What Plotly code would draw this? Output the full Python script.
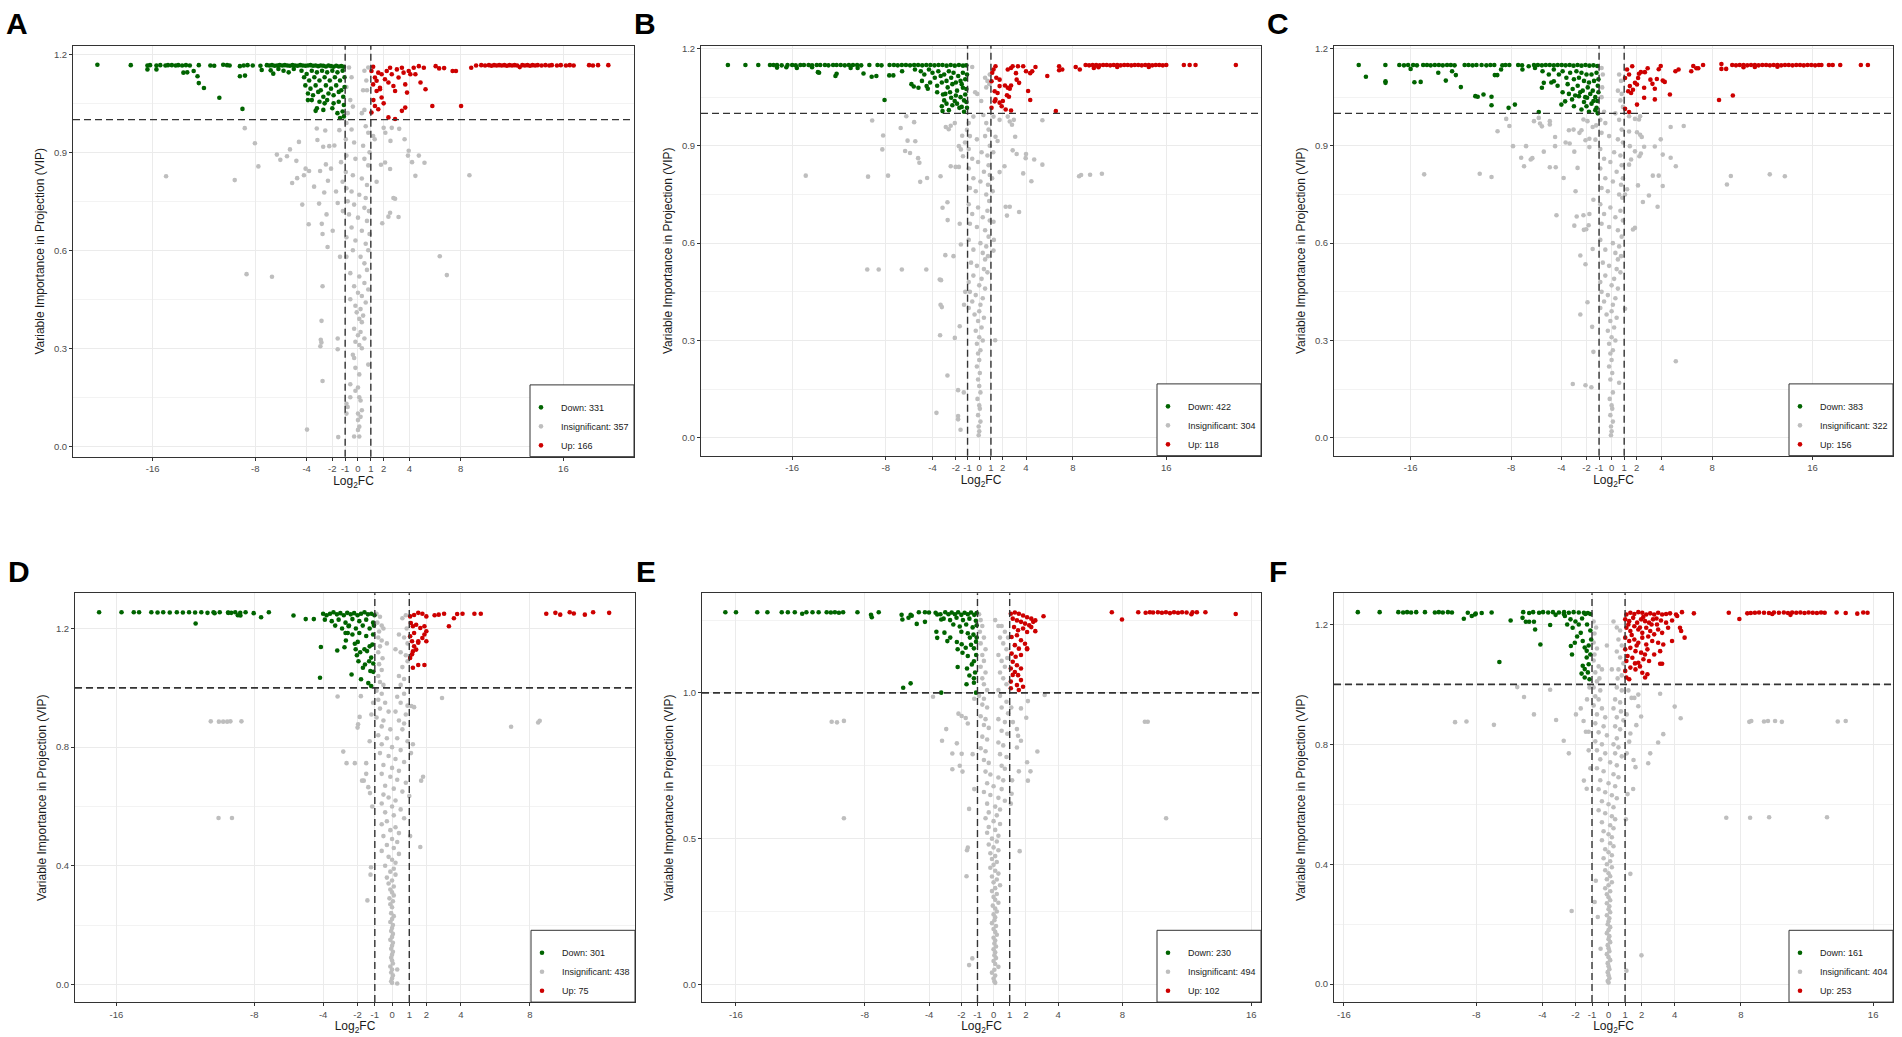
import plotly.graph_objects as go

W, H = 1902, 1037

# legend counts: Down, Insignificant, Up
A_counts = [331, 357, 166]
B_counts = [422, 304, 118]
C_counts = [383, 322, 156]
D_counts = [301, 438, 75]
E_counts = [230, 494, 102]
F_counts = [161, 404, 253]

x_ticks = [-16, -8, -4, -2, -1, 0, 1, 2, 4, 8, 16]
y_ticks_03 = [0.0, 0.3, 0.6, 0.9, 1.2]
y_ticks_04 = [0.0, 0.4, 0.8, 1.2]
y_ticks_05 = [0.0, 0.5, 1.0]

# (Log2FC, VIP) pairs
A_down = [
    (-20.3, 1.168), (-17.7, 1.167), (-16.4, 1.166), (-16.2, 1.167), (-15.7, 1.166), (-15.4, 1.167),
    (-15.0, 1.166), (-14.8, 1.167), (-14.5, 1.167), (-14.2, 1.166), (-14.0, 1.167), (-13.7, 1.166),
    (-13.4, 1.167), (-13.1, 1.166), (-12.4, 1.167), (-11.5, 1.166), (-11.2, 1.165), (-10.5, 1.168),
    (-10.2, 1.167), (-10.0, 1.166), (-9.2, 1.164), (-8.9, 1.166), (-8.6, 1.167), (-8.2, 1.166),
    (-7.6, 1.165), (-7.1, 1.167), (-6.9, 1.166), (-6.7, 1.167), (-6.5, 1.165), (-6.3, 1.166),
    (-6.1, 1.167), (-5.9, 1.166), (-5.7, 1.167), (-5.5, 1.166), (-5.3, 1.165), (-5.1, 1.167),
    (-4.9, 1.166), (-4.7, 1.165), (-4.5, 1.167), (-4.3, 1.166), (-4.1, 1.165), (-3.9, 1.166),
    (-3.7, 1.167), (-3.5, 1.165), (-3.3, 1.166), (-3.1, 1.164), (-2.9, 1.166), (-2.7, 1.165),
    (-2.5, 1.163), (-2.3, 1.166), (-2.1, 1.164), (-1.9, 1.162), (-1.7, 1.165), (-1.5, 1.163),
    (-1.3, 1.164), (-1.1, 1.162),
    (-16.4, 1.154), (-15.7, 1.154), (-13.6, 1.144), (-13.3, 1.145), (-12.8, 1.149), (-12.5, 1.133),
    (-12.4, 1.112), (-12.0, 1.097), (-10.8, 1.067), (-9.2, 1.133), (-8.8, 1.135), (-9.0, 1.033),
    (-7.5, 1.152), (-6.8, 1.151), (-6.6, 1.141), (-6.2, 1.155), (-5.8, 1.150), (-5.4, 1.145),
    (-5.0, 1.155),
    (-4.4, 1.15), (-4.2, 1.13), (-4.0, 1.14), (-3.8, 1.12), (-3.6, 1.15), (-3.4, 1.13),
    (-3.2, 1.145), (-3.0, 1.12), (-2.8, 1.15), (-2.6, 1.13), (-2.4, 1.145), (-2.2, 1.12),
    (-2.0, 1.15), (-1.8, 1.13), (-1.6, 1.145), (-1.4, 1.12), (-1.2, 1.15), (-1.05, 1.13),
    (-4.1, 1.105), (-3.7, 1.095), (-3.3, 1.105), (-2.9, 1.09), (-2.5, 1.105), (-2.1, 1.095),
    (-1.7, 1.105), (-1.3, 1.09), (-1.05, 1.10),
    (-3.9, 1.08), (-3.5, 1.075), (-3.1, 1.085), (-2.7, 1.07), (-2.3, 1.08), (-1.9, 1.075),
    (-1.5, 1.085), (-1.15, 1.07),
    (-3.9, 1.06), (-3.6, 1.06), (-3.0, 1.055), (-2.6, 1.05), (-2.4, 1.06), (-1.9, 1.05),
    (-1.5, 1.055), (-1.1, 1.045),
    (-3.2, 1.035), (-3.3, 1.027), (-2.7, 1.03), (-2.0, 1.035), (-1.6, 1.02), (-1.2, 1.025),
    (-1.4, 1.005), (-1.1, 1.01),
]
A_insig = [
    (-14.95, 0.827), (-9.6, 0.815), (-8.82, 0.974), (-8.03, 0.928), (-7.76, 0.857), (-8.68, 0.527),
    (-6.7, 0.519), (-6.32, 0.893), (-6.05, 0.877), (-5.53, 0.888), (-5.3, 0.909), (-5.13, 0.806),
    (-4.74, 0.821), (-4.8, 0.874), (-4.6, 0.932), (-4.34, 0.74), (-4.21, 0.83), (-4.08, 0.85),
    (-3.84, 0.68), (-3.81, 0.843), (-3.42, 0.795), (-3.21, 0.973), (-3.16, 0.938), (-3.03, 0.743),
    (-2.95, 0.843), (-2.82, 0.681), (-2.76, 0.65), (-2.76, 0.49), (-2.71, 0.917), (-2.63, 0.777),
    (-2.55, 0.967), (-2.5, 0.863), (-2.45, 0.71), (-2.37, 0.61), (-2.34, 0.813), (-2.24, 0.919),
    (-2.1, 0.85), (-1.97, 0.66), (-1.84, 0.921), (-1.71, 0.78), (-1.58, 0.745), (-1.45, 0.968),
    (-1.4, 0.58), (-1.32, 0.87), (-1.2, 0.81), (-1.18, 0.72),
    (-3.97, 0.051), (-2.84, 0.384), (-2.9, 0.326), (-2.85, 0.318), (-2.93, 0.306), (-2.76, 0.2),
    (-1.58, 0.33), (-1.58, 0.297), (-1.54, 0.028),
    (2.0, 0.975), (2.13, 0.96), (2.53, 0.935), (1.79, 0.862), (2.11, 0.869), (2.5, 0.849),
    (2.63, 0.975), (2.76, 0.76), (2.89, 0.758), (2.5, 0.715), (2.37, 0.703), (3.16, 0.702),
    (3.21, 0.972), (3.63, 0.94), (3.89, 0.89), (3.95, 0.905), (4.21, 0.87), (4.74, 0.89),
    (4.47, 0.828), (5.18, 0.868), (8.68, 0.83), (6.37, 0.582), (6.92, 0.524), (1.89, 0.683),
    (1.45, 0.81), (1.18, 0.95), (1.3, 0.94),
    (-0.9, 1.1), (-0.7, 1.16), (-0.5, 1.13), (0.5, 1.15), (0.65, 1.12), (0.8, 1.16),
    (0.4, 1.09), (0.7, 1.09), (-0.6, 1.06), (-0.4, 1.04), (0.5, 1.03), (-0.8, 1.02), (0.3, 1.02),
    (-0.9, 0.99), (-0.5, 0.97), (0.6, 0.98), (0.8, 0.96), (-0.95, 0.94), (-0.3, 0.93),
    (0.4, 0.92), (0.9, 0.9), (-0.9, 0.89), (-0.2, 0.88), (0.5, 0.88), (0.8, 0.86),
    (-0.95, 0.84), (-0.4, 0.83), (0.3, 0.82), (0.7, 0.8), (-0.9, 0.79), (-0.5, 0.78),
    (0.1, 0.77), (0.6, 0.76), (-0.8, 0.75), (-0.3, 0.74), (0.5, 0.73), (0.85, 0.72),
    (-0.7, 0.71), (0.0, 0.7), (0.7, 0.69), (-0.5, 0.67), (0.3, 0.66), (0.9, 0.65),
    (-0.9, 0.64), (-0.2, 0.63), (0.6, 0.62), (0.8, 0.6), (-0.4, 0.6), (0.2, 0.58),
    (-0.9, 0.58), (0.5, 0.56), (0.7, 0.54), (-0.6, 0.53), (0.1, 0.52), (0.5, 0.5),
    (-0.3, 0.49), (0.8, 0.48), (0.0, 0.47), (0.3, 0.46), (-0.6, 0.45), (0.6, 0.44),
    (-0.2, 0.43), (0.2, 0.42), (-0.1, 0.41), (0.4, 0.40), (0.1, 0.39), (0.3, 0.38),
    (-0.3, 0.36), (0.2, 0.35), (0.0, 0.34), (0.5, 0.33), (-0.2, 0.32), (0.1, 0.31),
    (0.3, 0.3), (-0.4, 0.28), (-0.3, 0.27), (0.8, 0.25), (-0.2, 0.24), (0.1, 0.22),
    (-0.6, 0.19), (0.0, 0.18), (-0.2, 0.17), (0.1, 0.15), (-0.6, 0.15), (0.2, 0.14),
    (-0.9, 0.13), (-0.8, 0.12), (0.3, 0.11), (0.0, 0.1), (-0.9, 0.1), (0.2, 0.09),
    (0.0, 0.08), (0.1, 0.06), (0.0, 0.05), (-0.3, 0.03), (0.1, 0.03),
]
A_up = [
    (1.18, 1.162), (1.05, 1.149), (1.32, 1.129), (1.18, 1.108), (1.58, 1.144), (1.45, 1.119),
    (1.71, 1.098), (1.84, 1.139), (1.84, 1.068), (2.1, 1.124), (2.24, 1.149), (2.37, 1.114),
    (2.5, 1.159), (2.63, 1.139), (2.76, 1.103), (2.89, 1.088), (3.03, 1.154), (3.16, 1.129),
    (3.42, 1.159), (3.55, 1.144), (3.68, 1.108), (3.82, 1.083), (3.95, 1.149), (4.08, 1.139),
    (4.34, 1.159), (4.47, 1.139), (4.74, 1.164), (4.87, 1.114), (5.13, 1.159), (5.26, 1.093),
    (6.05, 1.164), (6.32, 1.157), (6.71, 1.158), (7.37, 1.149), (7.63, 1.149), (8.82, 1.159),
    (1.05, 1.022), (1.32, 1.042), (1.58, 1.032), (2.37, 1.007), (2.89, 1.002), (3.42, 1.027),
    (3.68, 1.037), (5.79, 1.042), (8.03, 1.042), (1.45, 1.088), (1.71, 1.093), (1.2, 1.06),
    (2.0, 1.05),
    (9.2, 1.166), (9.6, 1.167), (9.9, 1.166), (10.2, 1.167), (10.4, 1.165), (10.6, 1.167),
    (10.8, 1.166), (11.0, 1.167), (11.2, 1.166), (11.4, 1.167), (11.6, 1.165), (11.8, 1.167),
    (12.0, 1.166), (12.2, 1.167), (12.4, 1.166), (12.6, 1.161), (12.8, 1.167), (13.0, 1.166),
    (13.2, 1.167), (13.4, 1.165), (13.6, 1.167), (13.8, 1.166), (14.0, 1.167), (14.3, 1.166),
    (14.6, 1.167), (14.9, 1.166), (15.1, 1.167), (15.5, 1.166), (15.8, 1.167), (16.2, 1.166),
    (16.5, 1.167), (16.8, 1.166), (18.0, 1.167), (18.3, 1.166), (18.7, 1.167), (19.5, 1.167),
]

B_down = [
    (-21.5, 1.149), (-20.0, 1.149), (-18.9, 1.149), (-17.9, 1.149), (-17.6, 1.149), (-17.3, 1.149),
    (-16.9, 1.148), (-16.4, 1.149), (-16.0, 1.149), (-15.7, 1.148), (-15.3, 1.149), (-15.0, 1.149),
    (-14.6, 1.149), (-14.3, 1.148), (-13.9, 1.149), (-13.6, 1.149), (-13.2, 1.149), (-12.9, 1.148),
    (-12.5, 1.149), (-12.2, 1.149), (-11.85, 1.149), (-11.5, 1.148), (-11.15, 1.149), (-10.8, 1.149),
    (-10.45, 1.149), (-10.1, 1.148), (-9.4, 1.149), (-8.7, 1.149), (-8.36, 1.148), (-7.67, 1.149),
    (-7.3, 1.149), (-6.97, 1.148), (-6.62, 1.149), (-6.27, 1.149), (-5.92, 1.148), (-5.57, 1.149),
    (-5.23, 1.149), (-4.88, 1.148), (-4.53, 1.149), (-4.18, 1.149), (-3.83, 1.148), (-3.48, 1.149),
    (-3.14, 1.149), (-2.79, 1.147), (-2.44, 1.149), (-2.09, 1.147), (-1.74, 1.149), (-1.39, 1.147),
    (-1.11, 1.148),
    (-17.3, 1.141), (-16.5, 1.142), (-15.6, 1.14), (-13.8, 1.127), (-13.7, 1.125), (-12.3, 1.115),
    (-12.2, 1.122), (-9.9, 1.123), (-9.2, 1.113), (-8.8, 1.115), (-8.1, 1.041), (-7.7, 1.117),
    (-7.35, 1.117), (-6.6, 1.13), (-10.4, 1.14), (-11.0, 1.14), (-14.3, 1.142),
    (-5.8, 1.09), (-5.6, 1.083), (-5.2, 1.079), (-4.5, 1.084), (-4.4, 1.076), (-3.2, 1.022),
    (-3.14, 1.007), (-3.1, 1.058), (-3.0, 1.04), (-2.4, 1.048), (-2.1, 1.038), (-1.4, 1.079),
    (-1.2, 1.058), (-1.7, 1.017), (-1.05, 1.017),
    (-5.5, 1.135), (-5.0, 1.13), (-4.7, 1.12), (-4.3, 1.135), (-4.0, 1.125), (-3.8, 1.11),
    (-3.5, 1.13), (-3.3, 1.115), (-3.0, 1.12), (-2.8, 1.10), (-2.6, 1.13), (-2.4, 1.11),
    (-2.2, 1.125), (-2.0, 1.095), (-1.8, 1.115), (-1.6, 1.10), (-1.4, 1.125), (-1.2, 1.105),
    (-1.05, 1.12),
    (-4.9, 1.10), (-4.2, 1.095), (-3.6, 1.085), (-3.2, 1.095), (-2.7, 1.08), (-2.3, 1.09),
    (-1.9, 1.07), (-1.5, 1.09), (-1.1, 1.075),
    (-3.6, 1.065), (-2.9, 1.06), (-2.5, 1.065), (-2.0, 1.055), (-1.6, 1.05), (-1.3, 1.04),
    (-2.8, 1.03), (-2.3, 1.025), (-1.9, 1.03), (-1.5, 1.02), (-1.1, 1.035), (-2.6, 1.01),
    (-1.3, 1.005),
]
B_insig = [
    (-14.84, 0.808), (-9.51, 0.805), (-7.8, 0.808), (-9.16, 0.978), (-8.22, 0.932), (-8.29, 0.889),
    (-6.72, 0.955), (-6.24, 0.991), (-6.13, 0.916), (-5.57, 0.973), (-5.47, 0.914), (-6.34, 0.884),
    (-5.92, 0.878), (-5.23, 0.862), (-5.12, 0.848), (-5.05, 0.789), (-4.46, 0.801), (-3.31, 0.806),
    (-2.44, 0.837), (-2.02, 0.835), (-1.74, 0.835), (-2.86, 0.958), (-2.44, 0.962), (-2.61, 0.951),
    (-2.09, 0.97), (-1.74, 0.899), (-1.57, 0.889), (-1.39, 0.868), (-1.22, 0.91), (-1.05, 0.949),
    (-1.46, 0.931),
    (-9.58, 0.519), (-8.6, 0.519), (-6.62, 0.519), (-4.53, 0.519), (-3.14, 0.709), (-2.72, 0.726),
    (-2.9, 0.563), (-2.2, 0.56), (-2.7, 0.671), (-1.67, 0.66), (-1.57, 0.596), (-3.38, 0.488),
    (-3.27, 0.486), (-3.31, 0.41), (-3.2, 0.403), (-3.35, 0.316), (-2.09, 0.308), (-1.67, 0.344),
    (-2.72, 0.192), (-1.81, 0.147), (-3.66, 0.077), (-1.81, 0.067), (-1.81, 0.057), (-1.6, 0.025),
    (-1.32, 0.14), (-1.3, 0.41), (-1.2, 0.45),
    (0.17, 1.038), (-0.17, 1.06), (-0.35, 1.065), (0.7, 1.10), (0.87, 1.09), (0.9, 1.12),
    (0.5, 1.11), (0.6, 1.08), (-0.6, 1.143),
    (0.35, 0.995), (1.22, 0.99), (1.74, 0.98), (2.44, 0.99), (2.61, 0.975), (2.96, 0.98),
    (2.8, 0.965), (3.07, 0.928), (2.86, 0.886), (3.2, 0.875), (4.0, 0.875), (3.97, 0.862),
    (4.7, 0.858), (5.4, 0.842), (5.4, 0.979), (2.16, 0.837), (1.74, 0.819), (3.76, 0.815),
    (4.46, 0.791), (1.39, 0.928), (1.57, 0.915), (2.26, 0.712), (2.61, 0.712), (2.37, 0.685),
    (3.41, 0.696), (1.22, 0.666), (1.25, 0.61), (1.22, 0.577), (1.36, 0.301), (8.54, 0.806),
    (8.71, 0.81), (9.48, 0.811), (10.49, 0.814), (1.1, 0.8), (1.15, 0.76), (1.2, 0.88),
    (-0.9, 0.97), (-0.5, 0.99), (0.6, 0.97), (0.8, 0.95), (-0.8, 0.93), (-0.2, 0.92),
    (0.5, 0.93), (0.9, 0.9), (-0.9, 0.89), (0.2, 0.88), (0.7, 0.87), (-0.6, 0.86),
    (-0.1, 0.85), (0.8, 0.84), (-0.9, 0.83), (0.4, 0.82), (0.9, 0.81), (-0.5, 0.8),
    (0.1, 0.79), (0.75, 0.78), (-0.8, 0.77), (-0.3, 0.76), (0.6, 0.75), (0.85, 0.73),
    (-0.9, 0.72), (-0.1, 0.71), (0.7, 0.7), (-0.6, 0.69), (0.3, 0.68), (0.9, 0.67),
    (-0.8, 0.66), (-0.2, 0.65), (0.5, 0.64), (0.8, 0.62), (-0.9, 0.61), (0.1, 0.6),
    (0.6, 0.59), (-0.5, 0.58), (0.3, 0.57), (0.75, 0.56), (0.5, 0.55), (-0.7, 0.54),
    (-0.2, 0.53), (0.4, 0.52), (0.7, 0.51), (-0.5, 0.5), (0.2, 0.49), (-0.9, 0.48),
    (0.0, 0.47), (0.5, 0.46), (-0.8, 0.45), (-0.3, 0.44), (0.3, 0.43), (-0.6, 0.42),
    (0.1, 0.41), (-0.9, 0.40), (0.0, 0.39), (-0.4, 0.38), (0.4, 0.37), (-0.1, 0.36),
    (0.2, 0.34), (-0.3, 0.33), (0.0, 0.31), (0.3, 0.3), (-0.2, 0.29), (0.1, 0.27),
    (-0.1, 0.26), (0.0, 0.24), (-0.2, 0.22), (0.05, 0.2), (-0.1, 0.18), (0.0, 0.16),
    (0.1, 0.14), (-0.15, 0.12), (0.0, 0.1), (0.05, 0.09), (-0.1, 0.07), (0.1, 0.05),
    (-0.05, 0.035), (0.0, 0.02), (-0.05, 0.008),
]
B_up = [
    (1.22, 1.135), (1.11, 1.125), (1.39, 1.145), (1.05, 1.099), (1.46, 1.11), (1.74, 1.104),
    (1.74, 1.084), (1.32, 1.068), (1.57, 1.063), (1.39, 1.043), (1.32, 1.037), (2.02, 1.038),
    (1.74, 1.033), (1.05, 1.017), (1.92, 1.022), (2.26, 1.012), (2.72, 1.009), (2.44, 1.079),
    (2.61, 1.076), (2.72, 1.086), (2.2, 1.086), (2.37, 1.056), (2.54, 1.051), (2.44, 1.135),
    (2.72, 1.14), (2.86, 1.145), (3.14, 1.124), (3.31, 1.145), (3.2, 1.104), (3.41, 1.094),
    (3.76, 1.145), (4.0, 1.13), (4.36, 1.124), (4.53, 1.13), (4.81, 1.143), (4.18, 1.069),
    (4.36, 1.041), (5.82, 1.115), (6.55, 1.007), (6.83, 1.145), (6.83, 1.133), (7.1, 1.135),
    (8.25, 1.143), (8.6, 1.135),
    (9.1, 1.149), (9.4, 1.148), (9.7, 1.149), (10.0, 1.149), (10.3, 1.148), (10.6, 1.149),
    (10.9, 1.149), (11.2, 1.148), (11.5, 1.149), (11.8, 1.149), (12.1, 1.148), (12.4, 1.149),
    (12.7, 1.149), (13.0, 1.148), (13.3, 1.149), (13.6, 1.149), (13.9, 1.148), (14.2, 1.149),
    (14.5, 1.149), (14.8, 1.148), (15.1, 1.149), (15.4, 1.149), (15.7, 1.148), (16.0, 1.149),
    (17.5, 1.149), (18.0, 1.149), (18.5, 1.149), (21.95, 1.149),
    (9.8, 1.14), (10.2, 1.142), (11.8, 1.143), (14.5, 1.143),
]

C_down = [
    (-20.13, 1.149), (-18.01, 1.149), (-16.9, 1.149), (-16.53, 1.148), (-16.2, 1.149), (-15.8, 1.149),
    (-15.5, 1.148), (-15.0, 1.149), (-14.7, 1.149), (-14.4, 1.148), (-14.07, 1.149), (-13.75, 1.149),
    (-13.44, 1.148), (-13.1, 1.149), (-12.8, 1.149), (-12.5, 1.148), (-11.7, 1.149), (-11.39, 1.149),
    (-11.07, 1.148), (-10.76, 1.149), (-10.35, 1.149), (-9.97, 1.148), (-9.65, 1.149), (-9.34, 1.149),
    (-8.7, 1.148), (-8.45, 1.149), (-8.14, 1.149), (-7.44, 1.149), (-7.13, 1.148), (-6.18, 1.149),
    (-5.87, 1.149), (-5.55, 1.148), (-5.24, 1.149), (-4.92, 1.149), (-4.6, 1.148), (-4.29, 1.149),
    (-3.97, 1.149), (-3.66, 1.148), (-3.34, 1.149), (-3.03, 1.147), (-2.71, 1.149), (-2.4, 1.147),
    (-2.08, 1.149), (-1.77, 1.147), (-1.45, 1.148), (-1.14, 1.146),
    (-19.56, 1.113), (-18.0, 1.099), (-18.0, 1.094), (-16.0, 1.137), (-15.7, 1.096), (-15.2, 1.097),
    (-13.8, 1.125), (-13.2, 1.101), (-12.7, 1.13), (-12.4, 1.118), (-12.0, 1.081), (-10.85, 1.053),
    (-10.66, 1.051), (-10.2, 1.058), (-9.56, 1.051), (-9.56, 1.025), (-9.3, 1.118), (-9.1, 1.118),
    (-8.8, 1.135), (-8.2, 1.017), (-7.7, 1.027), (-5.8, 1.004), (-7.1, 1.135), (-6.6, 1.145),
    (-6.1, 1.14), (-5.55, 1.079), (-5.4, 1.094), (-4.6, 1.099), (-3.9, 1.065), (-4.0, 1.027),
    (-3.7, 1.037), (-3.15, 1.043), (-3.0, 1.022), (-2.6, 1.053), (-2.4, 1.012), (-2.0, 1.022),
    (-1.95, 1.048), (-1.45, 1.038), (-1.2, 1.017), (-1.14, 1.038),
    (-5.5, 1.13), (-5.0, 1.12), (-4.6, 1.135), (-4.2, 1.12), (-3.9, 1.13), (-3.6, 1.11),
    (-3.3, 1.125), (-3.0, 1.105), (-2.8, 1.13), (-2.6, 1.11), (-2.4, 1.125), (-2.2, 1.1),
    (-2.0, 1.12), (-1.8, 1.095), (-1.6, 1.12), (-1.4, 1.1), (-1.2, 1.125), (-1.05, 1.105),
    (-4.8, 1.095), (-4.3, 1.085), (-3.5, 1.09), (-3.1, 1.075), (-2.7, 1.085), (-2.3, 1.07),
    (-1.9, 1.08), (-1.5, 1.07), (-1.1, 1.085),
    (-3.4, 1.06), (-2.9, 1.055), (-2.5, 1.065), (-2.1, 1.05), (-1.7, 1.06), (-1.3, 1.05),
    (-1.05, 1.065), (-2.2, 1.035), (-1.6, 1.03), (-1.8, 1.005), (-1.3, 1.01), (-1.1, 1.0),
]
C_insig = [
    (-14.92, 0.812), (-10.5, 0.814), (-9.56, 0.804), (-9.08, 0.945), (-8.39, 0.983), (-8.14, 0.961),
    (-7.85, 0.899), (-6.81, 0.899), (-7.2, 0.863), (-6.97, 0.837), (-6.44, 0.858), (-6.31, 0.862),
    (-6.18, 0.976), (-5.8, 0.986), (-5.7, 0.969), (-5.55, 0.96), (-5.4, 0.882), (-4.92, 0.976),
    (-4.92, 0.966), (-4.92, 0.834), (-4.45, 0.834), (-4.5, 0.927), (-4.5, 0.899), (-3.82, 0.801),
    (-3.66, 0.91), (-3.34, 0.907), (-3.4, 0.948), (-3.03, 0.95), (-2.97, 0.882), (-2.71, 0.832),
    (-2.56, 0.94), (-2.4, 0.948), (-2.08, 0.917), (-1.77, 0.896), (-1.92, 0.976), (-2.24, 0.981),
    (-1.29, 0.919), (-1.51, 0.958), (-1.23, 0.963), (-1.77, 0.922), (-2.87, 0.76),
    (-4.39, 0.686), (-2.78, 0.682), (-2.97, 0.654), (-2.24, 0.686), (-1.77, 0.69), (-1.83, 0.655),
    (-2.21, 0.641), (-2.02, 0.643), (-1.45, 0.734), (-2.49, 0.562), (-2.08, 0.535), (-1.51, 0.582),
    (-1.92, 0.418), (-2.49, 0.38), (-1.55, 0.342), (-1.45, 0.265), (-3.09, 0.166), (-2.08, 0.162),
    (-1.61, 0.156),
    (1.39, 0.991), (2.27, 0.991), (2.18, 0.981), (1.86, 0.983), (2.02, 0.942), (1.39, 0.944),
    (2.27, 0.934), (2.4, 0.927), (1.45, 0.899), (2.59, 0.897), (3.44, 0.898), (1.86, 0.883),
    (2.33, 0.876), (2.21, 0.868), (1.39, 0.842), (1.55, 0.858), (4.07, 0.873), (4.7, 0.863),
    (5.11, 0.837), (3.91, 0.92), (4.7, 0.958), (5.74, 0.961), (3.28, 0.808), (3.75, 0.808),
    (4.07, 0.776), (2.1, 0.778), (2.97, 0.747), (2.49, 0.727), (3.66, 0.712), (1.86, 0.647),
    (1.7, 0.642), (1.07, 0.398), (1.07, 0.75), (1.23, 0.766), (5.11, 0.236), (9.49, 0.807),
    (9.18, 0.781), (12.59, 0.812), (13.79, 0.806),
    (-0.8, 1.14), (-0.7, 1.12), (0.6, 1.12), (0.75, 1.1), (-0.75, 1.08), (0.5, 1.07),
    (0.8, 1.06), (-0.8, 1.05), (0.7, 1.04), (0.9, 1.02), (-0.6, 1.005), (0.3, 1.0),
    (-0.9, 0.98), (-0.5, 0.97), (0.6, 0.98), (0.8, 0.95), (-0.8, 0.94), (-0.2, 0.93),
    (0.5, 0.92), (0.9, 0.91), (-0.9, 0.89), (0.2, 0.88), (0.7, 0.87), (-0.6, 0.86),
    (-0.1, 0.85), (0.8, 0.84), (-0.9, 0.83), (0.4, 0.82), (0.9, 0.8), (-0.5, 0.8),
    (0.1, 0.79), (0.75, 0.78), (-0.8, 0.77), (-0.3, 0.76), (0.6, 0.75), (0.85, 0.74),
    (-0.9, 0.72), (-0.1, 0.71), (0.7, 0.7), (-0.6, 0.69), (0.3, 0.68), (0.9, 0.67),
    (-0.8, 0.66), (-0.2, 0.65), (0.5, 0.64), (0.8, 0.62), (-0.9, 0.61), (0.1, 0.6),
    (0.6, 0.59), (-0.5, 0.58), (0.3, 0.57), (0.75, 0.56), (0.5, 0.55), (-0.7, 0.54),
    (-0.2, 0.53), (0.4, 0.52), (0.7, 0.51), (-0.5, 0.5), (0.2, 0.49), (-0.9, 0.48),
    (0.0, 0.47), (0.5, 0.46), (-0.8, 0.45), (-0.3, 0.44), (0.3, 0.43), (-0.6, 0.42),
    (0.1, 0.41), (-0.9, 0.40), (0.0, 0.39), (-0.4, 0.38), (0.4, 0.37), (-0.1, 0.36),
    (0.2, 0.34), (-0.3, 0.33), (0.0, 0.31), (0.3, 0.3), (-0.2, 0.29), (0.1, 0.27),
    (-0.1, 0.26), (0.0, 0.24), (-0.2, 0.22), (0.05, 0.2), (-0.1, 0.18), (0.6, 0.17),
    (0.1, 0.14), (-0.15, 0.12), (0.0, 0.1), (0.05, 0.09), (-0.1, 0.07), (0.1, 0.05),
    (-0.05, 0.035), (0.0, 0.02), (-0.05, 0.008),
]
C_up = [
    (1.23, 1.135), (1.07, 1.109), (1.39, 1.12), (1.45, 1.084), (1.32, 1.068), (1.55, 1.063),
    (1.7, 1.073), (1.86, 1.094), (2.02, 1.089), (2.11, 1.109), (2.18, 1.122), (1.64, 1.145),
    (2.33, 1.127), (2.59, 1.079), (2.59, 1.048), (2.65, 1.127), (2.87, 1.139), (3.09, 1.104),
    (3.25, 1.091), (3.44, 1.076), (3.6, 1.106), (3.75, 1.136), (3.91, 1.146), (4.07, 1.101),
    (4.23, 1.097), (3.44, 1.043), (4.64, 1.058), (5.08, 1.13), (5.33, 1.135), (6.34, 1.13),
    (6.5, 1.146), (6.75, 1.139), (6.9, 1.139), (7.28, 1.149), (8.55, 1.041), (8.74, 1.152),
    (8.74, 1.137), (9.12, 1.137), (9.65, 1.055), (2.02, 1.027), (1.07, 1.014), (1.39, 1.004),
    (9.6, 1.149), (9.9, 1.148), (10.2, 1.149), (10.5, 1.149), (10.8, 1.148), (11.1, 1.149),
    (11.4, 1.149), (11.7, 1.148), (12.0, 1.149), (12.3, 1.149), (12.6, 1.148), (12.9, 1.149),
    (13.2, 1.149), (13.5, 1.148), (13.8, 1.149), (14.1, 1.149), (14.4, 1.148), (14.7, 1.149),
    (15.0, 1.149), (15.3, 1.148), (15.6, 1.149), (15.9, 1.149), (16.2, 1.148), (16.5, 1.149),
    (16.7, 1.149), (17.3, 1.149), (17.6, 1.149), (18.2, 1.149), (19.84, 1.149), (20.4, 1.149),
    (10.5, 1.142), (11.4, 1.143), (13.2, 1.144),
]

D_down = [
    (-17.0, 1.255), (-15.7, 1.255), (-14.99, 1.255), (-14.68, 1.255), (-13.97, 1.255), (-13.61, 1.254),
    (-13.28, 1.255), (-12.9, 1.254), (-12.49, 1.255), (-12.14, 1.254), (-11.78, 1.255), (-11.43, 1.254),
    (-11.07, 1.255), (-10.71, 1.253), (-10.36, 1.255), (-10.0, 1.255), (-9.52, 1.254), (-9.33, 1.253),
    (-9.1, 1.255), (-8.81, 1.253), (-8.5, 1.255), (-8.03, 1.252), (-7.15, 1.255), (-5.72, 1.244),
    (-5.01, 1.232), (-4.54, 1.232),
    (-11.4, 1.217), (-9.5, 1.253), (-8.95, 1.245), (-8.8, 1.244), (-7.6, 1.238), (-10.3, 1.252),
    (-4.0, 1.25), (-3.8, 1.245), (-3.6, 1.25), (-3.4, 1.255), (-3.2, 1.248), (-3.0, 1.252),
    (-2.8, 1.245), (-2.6, 1.253), (-2.4, 1.248), (-2.2, 1.252), (-2.0, 1.245), (-1.8, 1.25),
    (-1.6, 1.255), (-1.4, 1.248), (-1.2, 1.25), (-1.02, 1.245),
    (-3.9, 1.23), (-3.5, 1.225), (-3.1, 1.23), (-2.7, 1.22), (-2.3, 1.232), (-1.9, 1.225),
    (-1.5, 1.23), (-1.1, 1.22),
    (-3.3, 1.21), (-2.9, 1.2), (-2.5, 1.21), (-2.1, 1.2), (-1.7, 1.21), (-1.3, 1.2), (-1.05, 1.21),
    (-2.7, 1.185), (-2.3, 1.18), (-1.9, 1.185), (-1.5, 1.175), (-1.1, 1.18),
    (-4.13, 1.138), (-4.18, 1.034), (-3.18, 1.126), (-2.68, 1.16), (-2.76, 1.137), (-2.57, 1.185),
    (-2.52, 1.208), (-2.35, 1.045), (-2.16, 1.149), (-2.11, 1.13), (-2.04, 1.11), (-1.99, 1.155),
    (-1.95, 1.09), (-1.8, 1.029), (-1.69, 1.068), (-1.57, 1.079), (-1.45, 1.124), (-1.33, 1.09),
    (-1.26, 1.057), (-1.21, 1.102), (-1.14, 1.146), (-1.09, 1.082), (-1.09, 1.054), (-1.38, 1.016),
    (-1.21, 1.006), (-1.3, 1.14), (-1.6, 1.13), (-1.85, 1.12),
]
D_insig = [
    (-10.52, 0.887), (-10.05, 0.886), (-9.8, 0.886), (-9.57, 0.886), (-9.38, 0.887), (-8.74, 0.887),
    (-10.07, 0.561), (-9.29, 0.561), (-3.16, 0.971), (-2.83, 0.785), (-2.64, 0.746), (-2.16, 0.746),
    (-1.5, 0.746), (-1.97, 0.877), (-2.0, 0.866), (-1.88, 0.902), (-1.81, 0.972), (-1.64, 0.687),
    (-1.74, 0.687), (-1.5, 0.71), (-1.38, 0.665), (-1.28, 0.645), (-1.43, 0.283), (-1.22, 0.395),
    (-1.25, 0.37), (-1.2, 0.91), (-1.1, 0.95), (-1.3, 0.82), (-1.15, 0.6),
    (2.9, 0.966), (1.12, 0.939), (1.28, 0.935), (1.21, 0.81), (1.8, 0.7), (1.69, 0.687),
    (1.0, 0.635), (1.64, 0.463), (6.91, 0.869), (8.48, 0.883), (8.57, 0.889), (1.1, 0.78),
    (1.05, 0.5),
    (-0.9, 1.25), (-0.7, 1.24), (-0.85, 1.22), (-0.6, 1.21), (-0.75, 1.19), (-0.5, 1.2),
    (-0.8, 1.17), (-0.6, 1.16), (-0.7, 1.14), (-0.8, 1.12), (-0.55, 1.1), (-0.75, 1.08),
    (-0.6, 1.06), (-0.8, 1.04), (-0.7, 1.02), (-0.5, 1.01), (0.6, 1.235), (0.8, 1.245),
    (0.4, 1.18), (0.7, 1.17), (0.9, 1.15), (0.5, 1.12), (0.8, 1.11), (0.9, 1.09),
    (0.6, 1.07), (0.4, 1.04), (0.7, 1.03), (0.5, 1.01), (0.2, 1.13), (-0.3, 1.15), (0.85, 1.2),
    (-0.9, 0.99), (-0.6, 0.98), (0.3, 0.97), (0.7, 0.98), (-0.8, 0.96), (-0.4, 0.95),
    (0.5, 0.95), (0.9, 0.94), (-0.7, 0.93), (-0.2, 0.92), (0.2, 0.92), (0.8, 0.91),
    (-0.9, 0.9), (-0.5, 0.89), (0.4, 0.89), (0.7, 0.88), (-0.6, 0.87), (-0.1, 0.86),
    (0.6, 0.86), (-0.8, 0.84), (-0.3, 0.83), (0.3, 0.83), (0.9, 0.82), (-0.6, 0.81),
    (0.0, 0.8), (0.5, 0.79), (-0.7, 0.78), (-0.2, 0.77), (0.2, 0.76), (0.7, 0.75),
    (-0.5, 0.74), (0.0, 0.73), (0.4, 0.72), (-0.6, 0.71), (-0.1, 0.7), (0.3, 0.69),
    (0.8, 0.68), (-0.4, 0.67), (0.1, 0.66), (0.6, 0.65), (-0.5, 0.64), (-0.2, 0.63),
    (0.2, 0.62), (-0.6, 0.61), (0.0, 0.6), (0.5, 0.59), (-0.4, 0.58), (0.1, 0.57),
    (0.7, 0.56), (-0.3, 0.55), (-0.6, 0.54), (0.2, 0.53), (-0.1, 0.52), (0.4, 0.51),
    (-0.5, 0.5), (0.0, 0.49), (0.3, 0.48), (-0.3, 0.47), (0.1, 0.46), (-0.6, 0.45),
    (0.4, 0.44), (-0.2, 0.43), (0.0, 0.42), (0.2, 0.41), (-0.4, 0.4), (0.1, 0.39),
    (-0.1, 0.38), (0.2, 0.37), (-0.3, 0.36), (0.0, 0.35), (-0.2, 0.34), (0.1, 0.33),
    (-0.1, 0.32), (0.0, 0.31), (0.1, 0.3), (-0.15, 0.29), (0.05, 0.28), (-0.1, 0.27),
    (0.0, 0.26), (-0.05, 0.24), (0.1, 0.23), (0.0, 0.22), (-0.1, 0.21), (0.05, 0.2),
    (0.0, 0.19), (-0.05, 0.18), (0.05, 0.17), (0.0, 0.16), (-0.1, 0.15), (0.05, 0.14),
    (0.0, 0.13), (-0.05, 0.12), (0.05, 0.11), (0.0, 0.1), (-0.05, 0.09), (0.0, 0.08),
    (0.05, 0.07), (-0.1, 0.06), (0.0, 0.05), (0.3, 0.05), (-0.05, 0.04), (0.05, 0.03),
    (0.0, 0.02), (-0.05, 0.01), (0.3, 0.003), (0.0, 0.005),
]
D_up = [
    (1.05, 1.241), (1.28, 1.246), (1.52, 1.253), (1.76, 1.25), (1.99, 1.241), (1.09, 1.219),
    (1.21, 1.208), (1.4, 1.213), (1.64, 1.202), (1.88, 1.208), (1.99, 1.191), (1.88, 1.18),
    (1.28, 1.185), (1.05, 1.174), (1.16, 1.157), (1.52, 1.157), (1.76, 1.168), (1.99, 1.157),
    (1.28, 1.14), (1.4, 1.129), (1.21, 1.123), (1.52, 1.152), (1.05, 1.101), (1.16, 1.113),
    (1.21, 1.068), (1.52, 1.077), (1.88, 1.077), (2.47, 1.245), (2.71, 1.247), (3.02, 1.25),
    (3.3, 1.208), (3.59, 1.235), (3.78, 1.249), (4.09, 1.25), (4.78, 1.25), (5.15, 1.25),
    (8.95, 1.25), (9.48, 1.253), (9.76, 1.247), (10.31, 1.255), (10.55, 1.251), (11.19, 1.247),
    (11.67, 1.255), (12.6, 1.253),
]

E_down = [
    (-16.65, 1.277), (-15.99, 1.277), (-14.67, 1.277), (-14.04, 1.277), (-13.15, 1.277), (-12.77, 1.277),
    (-12.34, 1.277), (-11.88, 1.272), (-11.62, 1.277), (-11.24, 1.277), (-10.86, 1.277), (-10.36, 1.277),
    (-10.1, 1.276), (-9.85, 1.277), (-9.6, 1.275), (-9.34, 1.277), (-8.45, 1.277), (-7.61, 1.268),
    (-7.56, 1.26), (-7.13, 1.277), (-5.71, 1.268), (-5.15, 1.268), (-4.64, 1.277), (-4.26, 1.277),
    (-4.01, 1.276),
    (-5.66, 1.252), (-5.28, 1.258), (-5.08, 1.265), (-4.77, 1.237), (-4.26, 1.244), (-3.5, 1.269),
    (-3.25, 1.252), (-3.55, 1.21), (-3.5, 1.189), (-3.05, 1.207), (-2.87, 1.178), (-2.69, 1.19),
    (-2.28, 1.175), (-2.23, 1.15), (-1.98, 1.167), (-1.93, 1.138), (-1.73, 1.155), (-1.6, 1.127),
    (-2.23, 1.089), (-1.65, 1.084), (-1.35, 1.098), (-1.22, 1.109), (-1.22, 1.153), (-1.47, 1.19),
    (-1.09, 1.176), (-1.22, 1.05), (-1.68, 1.03), (-1.22, 1.035), (-5.61, 1.018), (-5.15, 1.033),
    (-3.25, 1.001), (-1.09, 1.001),
    (-3.6, 1.275), (-3.3, 1.27), (-3.0, 1.277), (-2.8, 1.27), (-2.6, 1.276), (-2.4, 1.27),
    (-2.2, 1.277), (-2.0, 1.268), (-1.8, 1.275), (-1.6, 1.27), (-1.4, 1.276), (-1.2, 1.268),
    (-1.05, 1.274),
    (-3.1, 1.255), (-2.7, 1.25), (-2.3, 1.258), (-1.9, 1.25), (-1.5, 1.255), (-1.1, 1.248),
    (-2.5, 1.235), (-2.1, 1.228), (-1.7, 1.235), (-1.3, 1.225), (-1.05, 1.232),
    (-2.0, 1.21), (-1.6, 1.205), (-1.25, 1.2), (-1.05, 1.19), (-1.4, 1.165), (-1.08, 1.13),
    (-1.15, 1.07), (-1.5, 1.06),
]
E_insig = [
    (-10.05, 0.901), (-9.72, 0.899), (-9.29, 0.904), (-9.29, 0.57), (9.39, 0.901), (9.57, 0.901),
    (10.71, 0.57), (-3.76, 0.987), (-3.2, 0.836), (-2.94, 0.876), (-2.28, 0.827), (-2.56, 0.792),
    (-1.98, 0.791), (-2.56, 0.738), (-1.93, 0.73), (-2.18, 0.929), (-1.98, 0.921), (-1.73, 0.914),
    (-1.6, 0.895), (-1.52, 0.602), (-1.65, 0.46), (-1.6, 0.469), (-1.68, 0.371), (-1.52, 0.066),
    (-1.32, 0.089), (-2.1, 0.75), (-1.3, 0.79), (-1.2, 0.67), (-1.2, 0.98),
    (3.17, 0.993), (2.13, 0.972), (2.03, 0.915), (1.7, 0.947), (1.45, 0.876), (1.52, 0.853),
    (1.7, 0.836), (1.45, 0.813), (2.72, 0.799), (2.08, 0.762), (2.29, 0.731), (1.57, 0.731),
    (2.13, 0.699), (1.12, 0.654), (1.07, 0.62), (1.62, 0.457), (1.1, 0.95), (1.2, 0.9),
    (1.15, 0.7),
    (-0.9, 1.27), (-0.8, 1.25), (-0.7, 1.23), (-0.85, 1.21), (-0.6, 1.19), (-0.8, 1.17),
    (-0.5, 1.15), (-0.7, 1.13), (-0.6, 1.11), (-0.8, 1.09), (-0.5, 1.07), (-0.7, 1.05),
    (-0.6, 1.03), (-0.4, 1.01), (0.3, 1.23), (0.5, 1.23), (0.7, 1.21), (0.4, 1.19),
    (0.6, 1.17), (0.8, 1.15), (0.3, 1.13), (0.5, 1.11), (0.7, 1.09), (0.4, 1.07),
    (0.6, 1.05), (0.8, 1.03), (0.3, 1.01), (0.9, 1.19), (0.85, 1.12), (0.1, 1.25),
    (-0.9, 0.99), (-0.6, 0.98), (0.4, 0.99), (0.8, 0.97), (-0.7, 0.96), (-0.4, 0.95),
    (0.5, 0.95), (0.9, 0.93), (-0.8, 0.92), (-0.5, 0.91), (0.3, 0.91), (0.7, 0.9),
    (-0.6, 0.89), (-0.3, 0.88), (0.5, 0.87), (0.85, 0.86), (-0.7, 0.85), (-0.4, 0.84),
    (0.3, 0.83), (0.6, 0.82), (-0.8, 0.81), (-0.5, 0.8), (0.4, 0.79), (0.8, 0.78),
    (-0.6, 0.77), (-0.3, 0.76), (0.5, 0.75), (0.7, 0.74), (-0.5, 0.73), (-0.2, 0.72),
    (0.3, 0.71), (0.6, 0.7), (-0.4, 0.69), (0.0, 0.68), (0.5, 0.67), (-0.6, 0.66),
    (-0.2, 0.65), (0.3, 0.64), (0.7, 0.63), (-0.4, 0.62), (0.1, 0.61), (0.4, 0.6),
    (-0.3, 0.59), (0.2, 0.58), (-0.5, 0.57), (0.0, 0.56), (0.4, 0.55), (-0.3, 0.54),
    (0.1, 0.53), (-0.4, 0.52), (0.3, 0.51), (-0.1, 0.5), (0.2, 0.49), (-0.3, 0.48),
    (0.0, 0.47), (0.3, 0.46), (-0.2, 0.45), (0.1, 0.44), (-0.1, 0.43), (0.2, 0.42),
    (0.0, 0.41), (-0.2, 0.40), (0.1, 0.39), (0.3, 0.38), (-0.1, 0.37), (0.2, 0.36),
    (0.0, 0.35), (0.4, 0.34), (0.1, 0.33), (-0.1, 0.32), (0.2, 0.31), (0.0, 0.3),
    (0.1, 0.29), (0.3, 0.28), (-0.05, 0.27), (0.1, 0.26), (0.2, 0.25), (0.0, 0.24),
    (0.1, 0.23), (0.05, 0.22), (-0.1, 0.21), (0.15, 0.2), (0.0, 0.19), (0.1, 0.18),
    (0.2, 0.17), (0.0, 0.16), (0.1, 0.15), (0.05, 0.14), (0.15, 0.13), (0.0, 0.12),
    (0.1, 0.11), (0.05, 0.1), (0.15, 0.09), (0.0, 0.08), (0.1, 0.07), (0.3, 0.06),
    (0.05, 0.05), (-0.1, 0.04), (0.1, 0.03), (0.0, 0.02), (0.05, 0.01), (0.1, 0.005),
]
E_up = [
    (1.07, 1.272), (1.32, 1.276), (1.57, 1.272), (1.83, 1.266), (2.08, 1.26), (2.34, 1.255),
    (2.46, 1.244), (2.59, 1.249), (3.1, 1.263),
    (1.19, 1.255), (1.45, 1.249), (1.7, 1.244), (1.95, 1.238), (2.21, 1.232),
    (1.27, 1.226), (1.52, 1.215), (1.83, 1.221), (2.08, 1.209), (2.34, 1.226), (2.59, 1.212),
    (1.12, 1.192), (1.45, 1.198), (1.7, 1.181), (1.95, 1.169), (1.32, 1.164), (1.57, 1.152),
    (2.08, 1.153), (1.12, 1.135), (1.37, 1.124), (1.7, 1.13), (1.19, 1.107), (1.45, 1.095),
    (1.7, 1.084), (1.07, 1.084), (1.32, 1.072), (1.52, 1.061), (1.7, 1.044), (1.07, 1.039),
    (1.45, 1.027), (1.83, 1.021), (1.07, 1.016), (1.57, 1.01), (1.19, 1.062), (2.08, 1.15),
    (7.34, 1.277), (7.97, 1.252), (8.98, 1.277), (9.44, 1.275), (9.7, 1.277), (9.9, 1.276),
    (10.2, 1.277), (10.45, 1.275), (10.7, 1.277), (10.95, 1.274), (11.2, 1.277), (11.45, 1.275),
    (11.7, 1.277), (11.98, 1.276), (12.28, 1.27), (12.35, 1.277), (12.62, 1.277), (13.15, 1.277),
    (15.03, 1.271),
]

F_down = [
    (-15.16, 1.241), (-13.84, 1.241), (-12.71, 1.241), (-12.42, 1.24), (-12.18, 1.241), (-11.94, 1.24),
    (-11.63, 1.241), (-11.1, 1.241), (-10.5, 1.24), (-10.26, 1.241), (-10.02, 1.24), (-9.71, 1.241),
    (-9.47, 1.24), (-8.51, 1.239), (-8.03, 1.236), (-7.67, 1.238), (-7.07, 1.24), (-5.16, 1.241),
    (-4.8, 1.238), (-4.56, 1.241), (-4.2, 1.239), (-3.96, 1.241), (-3.65, 1.24), (-3.36, 1.241),
    (-3.0, 1.24), (-2.69, 1.241), (-2.4, 1.239), (-2.11, 1.241), (-1.8, 1.24), (-1.49, 1.239),
    (-1.25, 1.238),
    (-8.75, 1.219), (-8.27, 1.228), (-8.08, 1.233), (-6.6, 1.075), (-5.92, 1.213), (-5.2, 1.222),
    (-5.0, 1.209), (-4.8, 1.209), (-4.51, 1.209), (-4.44, 1.183), (-3.53, 1.198), (-4.12, 1.133),
    (-2.64, 1.228), (-2.3, 1.217), (-2.17, 1.189), (-1.8, 1.2), (-1.68, 1.172), (-2.28, 1.128),
    (-2.04, 1.139), (-1.56, 1.145), (-1.44, 1.123), (-1.32, 1.112), (-2.21, 1.1), (-1.32, 1.09),
    (-1.2, 1.067), (-1.56, 1.062), (-1.44, 1.051), (-1.63, 1.036), (-1.44, 1.023), (-1.15, 1.017),
    (-1.25, 1.04), (-1.1, 1.1), (-1.05, 1.15), (-2.0, 1.21), (-1.6, 1.22), (-1.3, 1.2),
    (-1.1, 1.18), (-2.5, 1.2), (-1.9, 1.16), (-1.2, 1.13), (-2.7, 1.235), (-3.2, 1.232),
    (-1.4, 1.235), (-1.1, 1.235),
]
F_insig = [
    (-9.28, 0.874), (-8.59, 0.876), (-6.93, 0.865), (-5.52, 0.991), (-5.11, 0.958), (-4.51, 0.9),
    (-3.53, 0.982), (-3.17, 0.881), (-2.71, 0.812), (-2.4, 0.77), (-1.97, 0.9), (-1.68, 0.92),
    (-1.51, 0.878), (-1.37, 0.842), (-1.2, 0.842), (-1.49, 0.679), (-1.32, 0.652), (-2.23, 0.244),
    (-0.84, 0.274), (-0.77, 0.345), (-0.65, 0.224), (-0.48, 0.118), (-1.3, 0.95), (-1.15, 0.99),
    (-1.2, 0.78), (-1.1, 0.72),
    (1.39, 0.955), (1.8, 0.966), (1.8, 0.927), (1.56, 0.955), (1.97, 0.893), (3.12, 0.969),
    (4.0, 0.926), (4.36, 0.887), (3.31, 0.834), (3.0, 0.806), (2.52, 0.77), (2.4, 0.737),
    (1.68, 0.864), (1.32, 0.836), (1.25, 0.809), (1.51, 0.748), (1.63, 0.724), (1.49, 0.651),
    (1.15, 0.634), (1.32, 0.368), (1.99, 0.096), (1.08, 0.045), (8.51, 0.875), (8.63, 0.878),
    (9.4, 0.876), (9.64, 0.878), (10.07, 0.878), (10.48, 0.875), (13.86, 0.876), (14.34, 0.878),
    (7.12, 0.555), (8.56, 0.555), (9.71, 0.557), (13.21, 0.557), (1.1, 0.9), (1.2, 0.98),
    (1.1, 0.77), (1.05, 0.55),
    (-0.9, 1.21), (-0.75, 1.19), (-0.85, 1.17), (-0.9, 1.14), (-0.7, 1.12), (-0.85, 1.1),
    (-0.9, 1.08), (-0.6, 1.06), (-0.8, 1.04), (-0.55, 1.02), (-0.7, 1.01), (0.3, 1.21),
    (0.5, 1.19), (0.7, 1.18), (0.6, 1.15), (0.8, 1.13), (0.5, 1.11), (0.7, 1.09),
    (0.9, 1.07), (0.6, 1.05), (0.8, 1.03), (0.55, 1.02), (-0.1, 1.13), (0.2, 1.05), (-0.4, 1.05),
    (-0.9, 0.99), (-0.5, 0.98), (0.5, 0.99), (0.8, 0.98), (-0.8, 0.96), (-0.6, 0.95),
    (0.4, 0.95), (0.7, 0.94), (-0.9, 0.93), (-0.4, 0.92), (0.3, 0.92), (0.75, 0.91),
    (-0.7, 0.9), (-0.2, 0.89), (0.5, 0.89), (0.9, 0.88), (-0.8, 0.87), (-0.3, 0.86),
    (0.4, 0.86), (0.7, 0.85), (-0.6, 0.84), (-0.1, 0.83), (0.5, 0.82), (-0.8, 0.81),
    (-0.4, 0.8), (0.3, 0.8), (0.6, 0.79), (-0.7, 0.78), (-0.2, 0.77), (0.4, 0.77),
    (0.8, 0.76), (-0.5, 0.75), (0.1, 0.74), (0.5, 0.73), (-0.7, 0.72), (-0.3, 0.71),
    (0.3, 0.7), (0.6, 0.69), (-0.5, 0.68), (0.0, 0.67), (0.4, 0.66), (-0.6, 0.65),
    (-0.2, 0.64), (0.2, 0.63), (0.5, 0.62), (-0.4, 0.61), (0.0, 0.6), (0.3, 0.59),
    (-0.6, 0.58), (-0.2, 0.57), (0.2, 0.56), (0.4, 0.55), (-0.4, 0.54), (0.1, 0.53),
    (0.3, 0.52), (-0.3, 0.51), (0.0, 0.5), (0.2, 0.49), (-0.4, 0.48), (0.1, 0.47),
    (0.3, 0.46), (-0.2, 0.45), (0.0, 0.44), (0.2, 0.43), (-0.3, 0.42), (0.1, 0.41),
    (-0.1, 0.40), (0.2, 0.39), (-0.2, 0.38), (0.0, 0.37), (0.1, 0.36), (-0.1, 0.35),
    (0.2, 0.34), (0.0, 0.33), (-0.2, 0.32), (0.1, 0.31), (-0.1, 0.3), (0.0, 0.29),
    (0.1, 0.28), (-0.1, 0.27), (0.05, 0.26), (0.0, 0.25), (0.1, 0.24), (-0.1, 0.23),
    (0.05, 0.22), (0.0, 0.21), (-0.05, 0.2), (0.1, 0.19), (0.0, 0.18), (-0.1, 0.17),
    (0.05, 0.16), (0.0, 0.15), (0.1, 0.14), (-0.05, 0.13), (0.0, 0.12), (0.05, 0.11),
    (-0.1, 0.1), (0.0, 0.09), (0.1, 0.08), (-0.05, 0.07), (0.0, 0.06), (0.05, 0.05),
    (-0.05, 0.04), (0.0, 0.03), (0.05, 0.02), (-0.05, 0.01), (0.0, 0.005),
]
F_up = [
    (1.08, 1.233), (1.32, 1.239), (1.56, 1.235), (1.8, 1.241), (2.04, 1.239), (2.28, 1.233),
    (2.52, 1.237), (2.76, 1.233), (3.0, 1.239), (3.24, 1.233), (3.48, 1.235), (3.72, 1.237),
    (4.08, 1.233), (4.44, 1.241), (5.16, 1.237),
    (1.01, 1.217), (1.25, 1.211), (1.49, 1.222), (1.73, 1.206), (1.97, 1.217), (2.21, 1.211),
    (2.45, 1.206), (2.69, 1.217), (2.93, 1.2), (3.17, 1.213), (3.48, 1.206), (3.84, 1.213),
    (4.15, 1.228),
    (1.08, 1.189), (1.32, 1.178), (1.56, 1.194), (1.8, 1.183), (2.04, 1.172), (2.28, 1.189),
    (2.52, 1.178), (2.76, 1.167), (3.0, 1.183), (3.24, 1.172), (3.6, 1.189), (4.32, 1.189),
    (4.39, 1.178),
    (1.01, 1.156), (1.25, 1.145), (1.56, 1.15), (1.8, 1.139), (2.04, 1.156), (2.28, 1.133),
    (2.64, 1.145), (3.0, 1.139), (3.31, 1.133), (3.84, 1.145), (4.6, 1.156),
    (1.01, 1.117), (1.32, 1.122), (1.63, 1.111), (1.97, 1.106), (2.35, 1.117), (2.76, 1.1),
    (3.12, 1.111),
    (1.08, 1.078), (1.44, 1.089), (1.8, 1.072), (2.11, 1.084), (2.45, 1.078), (3.12, 1.069),
    (3.24, 1.069),
    (1.01, 1.045), (1.32, 1.056), (1.63, 1.05), (2.04, 1.039), (2.35, 1.034), (1.08, 1.023),
    (1.25, 1.017), (2.21, 1.023),
    (1.2, 1.2), (1.4, 1.165), (1.7, 1.13), (1.9, 1.19), (2.1, 1.225), (2.4, 1.16),
    (2.6, 1.2), (1.15, 1.095), (1.6, 1.07), (2.9, 1.22), (2.2, 1.1), (1.9, 1.06),
    (7.27, 1.239), (7.91, 1.218), (8.39, 1.237), (8.6, 1.238), (8.85, 1.239), (9.1, 1.24),
    (9.4, 1.239), (9.7, 1.238), (10.0, 1.24), (10.3, 1.239), (10.6, 1.24), (10.85, 1.238),
    (11.1, 1.24), (11.35, 1.239), (11.6, 1.24), (11.85, 1.238), (12.1, 1.24), (12.35, 1.239),
    (12.6, 1.238), (12.85, 1.24), (13.07, 1.239), (13.79, 1.24), (14.34, 1.238), (15.04, 1.236),
    (15.4, 1.24), (15.66, 1.239), (11.0, 1.232), (9.9, 1.235),
]

panels = [
    ("A", A_down, A_insig, A_up, A_counts, y_ticks_03),
    ("B", B_down, B_insig, B_up, B_counts, y_ticks_03),
    ("C", C_down, C_insig, C_up, C_counts, y_ticks_03),
    ("D", D_down, D_insig, D_up, D_counts, y_ticks_04),
    ("E", E_down, E_insig, E_up, E_counts, y_ticks_05),
    ("F", F_down, F_insig, F_up, F_counts, y_ticks_04),
]

# pixel frames of each panel (left, right, top, bottom) and axis ranges
frames = [
    (73, 634, 43, 455), (701, 1261, 43, 454), (1334, 1893, 43, 454),
    (75, 635, 592, 1002), (702, 1261, 592, 1002), (1334, 1893, 592, 1002),
]
x_ranges = [[-22.2, 21.5], [-23.8, 24.1], [-22.1, 22.4], [-18.4, 14.1], [-18.1, 16.6], [-16.6, 17.2]]
y_ranges = [[-0.032, 1.226], [-0.055, 1.208], [-0.055, 1.208], [-0.06, 1.319], [-0.061, 1.342], [-0.06, 1.304]]

colors = {"Down": "#006400", "Insignificant": "#BEBEBE", "Up": "#CD0000"}
font = "Liberation Sans, Arial, sans-serif"

fig = go.Figure()
shapes = []
annotations = []
layout = {}

for i, (letter, down, insig, up, counts, yt) in enumerate(panels, start=1):
    sfx = "" if i == 1 else str(i)
    xa, ya, lg = "x" + sfx, "y" + sfx, "legend" + sfx
    groups = [("Insignificant", insig, counts[1], 2), ("Down", down, counts[0], 1), ("Up", up, counts[2], 3)]
    for name, pts, n, rank in groups:
        fig.add_trace(go.Scatter(
            x=[p[0] for p in pts], y=[p[1] for p in pts], mode="markers",
            marker=dict(color=colors[name], size=4.6, line=dict(width=0)),
            name=f"{name}: {n}", xaxis=xa, yaxis=ya, legend=lg, legendrank=rank,
            hoverinfo="skip",
        ))

    left, right, top, bottom = frames[i - 1]
    step = yt[1] - yt[0]
    minor = [round(v + step / 2, 3) for v in yt]
    row2 = i > 3
    layout["xaxis" + sfx] = dict(
        domain=[left / W, right / W], range=x_ranges[i - 1], anchor=ya,
        tickmode="array", tickvals=x_ticks, ticktext=[str(v) for v in x_ticks],
        showgrid=True, gridcolor="#EBEBEB", gridwidth=1, zeroline=False,
        showline=True, linecolor="#333333", linewidth=1, mirror=True,
        ticks="outside", ticklen=3, tickcolor="#333333",
        tickfont=dict(size=9.5, color="#4D4D4D", family=font),
        title=dict(text="Log<sub>2</sub>FC", font=dict(size=12, color="#1A1A1A", family=font), standoff=2),
    )
    layout["yaxis" + sfx] = dict(
        domain=[1 - bottom / H, 1 - top / H], range=y_ranges[i - 1], anchor=xa,
        tickmode="array", tickvals=yt, ticktext=[f"{v:.1f}" for v in yt],
        showgrid=True, gridcolor="#EBEBEB", gridwidth=1, zeroline=False,
        showline=True, linecolor="#333333", linewidth=1, mirror=True,
        ticks="outside", ticklen=3, tickcolor="#333333",
        tickfont=dict(size=9.5, color="#4D4D4D", family=font),
        minor=dict(tickmode="array", tickvals=minor, showgrid=True, gridcolor="#F3F3F3",
                   gridwidth=0.6, ticks=""),
        title=dict(text="Variable Importance in Projection (VIP)",
                   font=dict(size=12, color="#1A1A1A", family=font), standoff=6),
    )

    dash = dict(color="#333333", width=1.8 if row2 else 1.3, dash="7px,4px")
    for xv in (-1, 1):
        shapes.append(dict(type="line", xref=xa, yref=ya + " domain", x0=xv, x1=xv, y0=0, y1=1,
                           line=dict(color="#333333", width=1.4, dash="7px,4px")))
    shapes.append(dict(type="line", xref=xa + " domain", yref=ya, x0=0, x1=1, y0=1.0, y1=1.0, line=dash))

    # legend box in the lower right corner of the panel
    box_l, box_t = right - 104, bottom - 72
    shapes.append(dict(type="rect", xref="paper", yref="paper", layer="above",
                       x0=box_l / W, x1=right / W, y0=1 - bottom / H, y1=1 - box_t / H,
                       line=dict(color="#333333", width=1), fillcolor="white"))
    layout[lg] = dict(
        x=(box_l - 9) / W, y=1 - (box_t + 8) / H, xanchor="left", yanchor="top",
        bgcolor="rgba(0,0,0,0)", borderwidth=0, itemwidth=30, tracegroupgap=0,
        font=dict(size=9, color="#1A1A1A", family=font),
    )

    annotations.append(dict(text=f"<b>{letter}</b>", xref="paper", yref="paper",
                            x=(left - 56) / W, y=1 - (top - 22) / H, xanchor="center", yanchor="middle",
                            showarrow=False, font=dict(size=30, color="black", family=font)))

fig.update_layout(
    width=W, height=H, autosize=False, margin=dict(l=0, r=0, t=0, b=0),
    paper_bgcolor="white", plot_bgcolor="white",
    shapes=shapes, annotations=annotations, showlegend=True,
    font=dict(family=font), **layout,
)

fig.write_html("out.html", config={"displayModeBar": False},
               post_script="document.body.style.margin='0';")
